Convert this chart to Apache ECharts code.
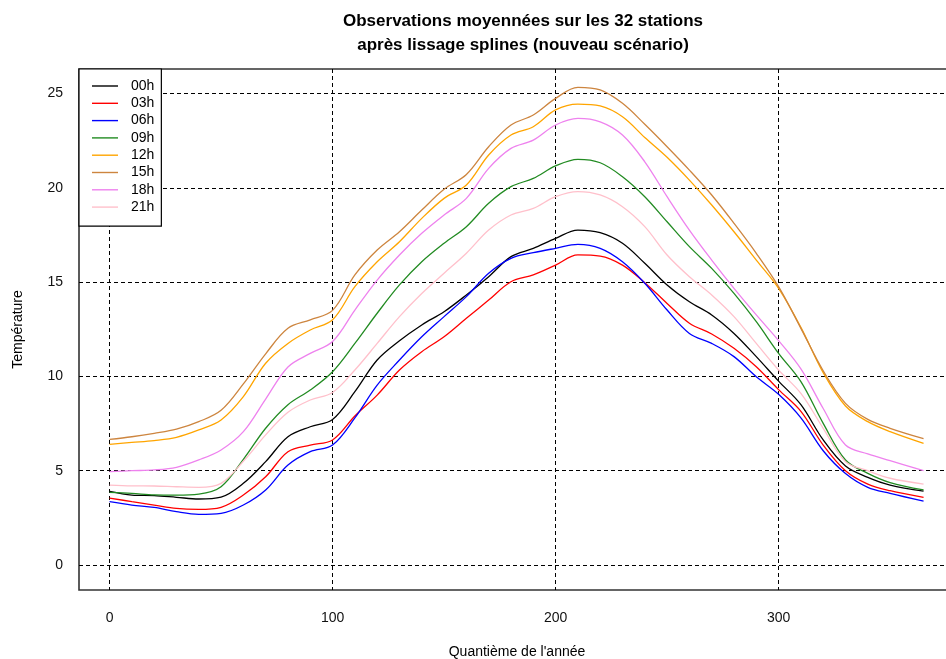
<!DOCTYPE html>
<html>
<head>
<meta charset="utf-8">
<script src="https://cdn.jsdelivr.net/npm/echarts@6/dist/echarts.min.js"></script>
<style>
  html, body { margin: 0; padding: 0; background: #fff; }
  #chart { width: 946px; height: 659px; }
</style>
</head>
<body>
<div id="chart"></div>
<script>
// Day of year at which each smoothed temperature is sampled
const days = [0, 10, 20, 30, 40, 50, 60, 70, 80, 90, 100, 110, 120, 130, 140, 150, 160, 170, 180,
  190, 200, 210, 220, 230, 240, 250, 260, 270, 280, 290, 300, 310, 320, 330, 340, 350, 365];

// Mean temperature (°C) over the 32 stations, one array per observation hour
const t00 = [3.9, 3.71, 3.68, 3.59, 3.5, 3.6, 4.33, 5.48, 6.8, 7.33, 7.72, 9.19, 10.87, 11.89, 12.73, 13.43, 14.32, 15.29, 16.35,
  16.79, 17.32, 17.76, 17.62, 17.06, 16.0, 14.85, 13.96, 13.26, 12.28, 11.05, 9.75, 8.5, 6.63, 5.25, 4.65, 4.24, 3.92];
const t03 = [3.55, 3.36, 3.18, 3.0, 2.95, 3.06, 3.71, 4.68, 6.01, 6.36, 6.63, 7.9, 9.01, 10.34, 11.31, 12.1, 13.08, 14.05, 15.02,
  15.38, 15.9, 16.44, 16.38, 15.9, 14.97, 13.87, 12.82, 12.25, 11.49, 10.51, 9.3, 8.15, 6.36, 5.0, 4.29, 3.94, 3.59];
const t06 = [3.36, 3.18, 3.06, 2.83, 2.69, 2.74, 3.18, 3.98, 5.3, 6.01, 6.36, 7.8, 9.54, 10.87, 12.1, 13.17, 14.23, 15.47, 16.26,
  16.56, 16.79, 17.0, 16.79, 16.08, 14.94, 13.52, 12.28, 11.75, 11.05, 9.98, 9.05, 7.8, 6.06, 4.85, 4.12, 3.8, 3.39];
const t09 = [3.85, 3.8, 3.72, 3.71, 3.76, 4.15, 5.6, 7.25, 8.5, 9.28, 10.25, 11.75, 13.35, 14.85, 16.08, 17.06, 17.94, 19.18, 20.06,
  20.5, 21.16, 21.51, 21.33, 20.59, 19.53, 18.2, 16.88, 15.73, 14.4, 12.9, 11.22, 9.72, 7.51, 5.57, 4.86, 4.37, 3.98];
const t12 = [6.4, 6.5, 6.6, 6.77, 7.16, 7.69, 8.93, 10.7, 11.75, 12.46, 13.0, 14.76, 16.08, 17.14, 18.38, 19.44, 20.15, 21.74, 22.8,
  23.24, 24.13, 24.44, 24.34, 23.77, 22.67, 21.62, 20.41, 19.09, 17.67, 16.17, 14.67, 12.6, 10.2, 8.43, 7.6, 7.07, 6.45];
const t15 = [6.66, 6.8, 6.98, 7.2, 7.6, 8.2, 9.6, 11.2, 12.55, 13.0, 13.5, 15.38, 16.7, 17.67, 18.82, 19.92, 20.71, 22.18, 23.33,
  23.86, 24.74, 25.33, 25.19, 24.48, 23.37, 22.18, 20.94, 19.62, 18.12, 16.53, 14.76, 12.55, 10.3, 8.57, 7.72, 7.25, 6.7];
const t18 = [4.95, 5.0, 5.04, 5.18, 5.57, 6.1, 7.07, 8.8, 10.5, 11.22, 11.85, 13.52, 15.11, 16.44, 17.59, 18.56, 19.44, 21.03, 22.09,
  22.53, 23.33, 23.68, 23.5, 22.8, 21.38, 19.53, 17.76, 16.17, 14.67, 13.26, 11.9, 10.4, 8.3, 6.36, 5.89, 5.53, 5.0];
const t21 = [4.24, 4.2, 4.19, 4.15, 4.12, 4.33, 5.5, 6.9, 8.1, 8.75, 9.15, 10.34, 11.75, 13.17, 14.4, 15.47, 16.53, 17.76, 18.56,
  18.91, 19.53, 19.8, 19.62, 19.0, 17.94, 16.44, 15.29, 14.32, 13.17, 11.75, 10.34, 9.1, 7.25, 5.48, 5.0, 4.6, 4.29];

const hourNames = ['00h', '03h', '06h', '09h', '12h', '15h', '18h', '21h'];
const hourValues = [t00, t03, t06, t09, t12, t15, t18, t21];
const hourColors = ['#000000', '#ff0000', '#0000ff', '#228b22', '#ffa500', '#cd853f', '#ee82ee', '#ffc0cb'];

const xTicks = [0, 100, 200, 300];
const yTicks = [0, 5, 10, 15, 20, 25];

const FONT = 'Liberation Sans, Arial, sans-serif';
const gridLine = { color: '#000', width: 1, type: [4, 3] };

const series = hourNames.map((name, i) => ({
  name: name,
  type: 'line',
  data: days.map((d, k) => [d, hourValues[i][k]]),
  smooth: 0.35,
  symbol: 'none',
  lineStyle: { color: hourColors[i], width: 1.3 },
  itemStyle: { color: hourColors[i] },
  emphasis: { disabled: true },
  z: 3
}));

const chart = echarts.init(document.getElementById('chart'), null, { renderer: 'canvas' });
chart.setOption({
  animation: false,
  backgroundColor: '#fff',
  textStyle: { fontFamily: FONT },
  title: {
    text: 'Observations moyennées sur les 32 stations\naprès lissage splines (nouveau scénario)',
    left: 518,
    top: 4,
    textAlign: 'center',
    textStyle: { fontFamily: FONT, fontSize: 17, fontWeight: 'bold', color: '#000', lineHeight: 24 }
  },
  grid: {
    left: 79, top: 69, width: 876, height: 521,
    outerBoundsMode: 'none',
    containLabel: false,
    show: true, borderColor: '#333', borderWidth: 1.6, backgroundColor: 'transparent'
  },
  legend: {
    orient: 'vertical',
    left: 79, top: 69,
    padding: [10, 7, 12, 13],
    icon: 'rect',
    itemWidth: 26, itemHeight: 1.4, itemGap: 3.3,
    backgroundColor: '#fff',
    borderColor: '#000', borderWidth: 1.2,
    data: hourNames,
    textStyle: { fontFamily: FONT, fontSize: 14, color: '#000', lineHeight: 14, padding: [0, 0, 0, 8] },
    selectedMode: false,
    z: 10
  },
  xAxis: {
    type: 'value',
    min: -13.7, max: 379.1,
    name: "Quantième de l'année",
    nameLocation: 'middle',
    nameGap: 55,
    nameTextStyle: { fontFamily: FONT, fontSize: 14, color: '#000' },
    axisLine: { show: false },
    axisTick: { show: false, customValues: xTicks },
    axisLabel: { customValues: xTicks, margin: 21, fontFamily: FONT, fontSize: 14, color: '#111' },
    splitLine: { show: true, lineStyle: gridLine }
  },
  yAxis: {
    type: 'value',
    min: -1.325, max: 26.3,
    name: 'Température',
    nameLocation: 'middle',
    nameGap: 54,
    nameRotate: 90,
    nameTextStyle: { fontFamily: FONT, fontSize: 14, color: '#000' },
    axisLine: { show: false },
    axisTick: { show: false, customValues: yTicks },
    axisLabel: { customValues: yTicks, margin: 16, fontFamily: FONT, fontSize: 14, color: '#111' },
    splitLine: { show: true, lineStyle: gridLine }
  },
  series: series
});
</script>
</body>
</html>
